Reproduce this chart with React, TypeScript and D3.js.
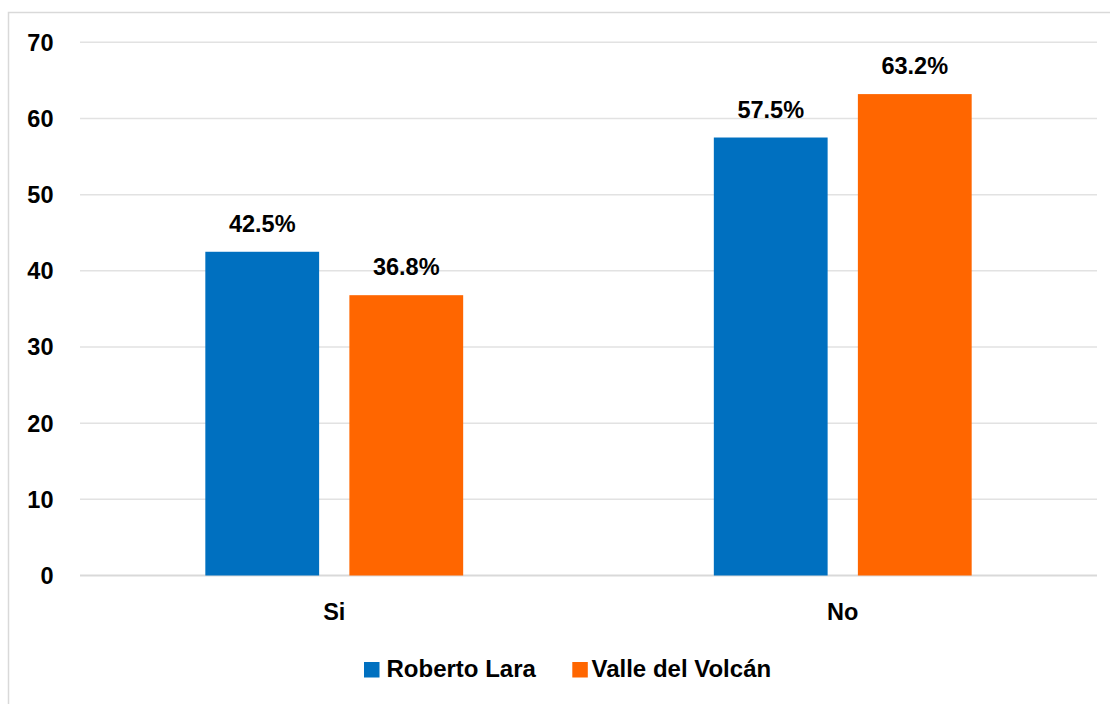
import React from "react";
import * as d3 from "d3";

const categories = ["Si", "No"];
const seriesNames = ["Roberto Lara", "Valle del Volcán"];
const robertoLara = [42.5, 57.5];
const valleDelVolcan = [36.8, 63.2];
const yTicks = [0, 10, 20, 30, 40, 50, 60, 70];
const colors = ["#0070C0", "#FF6600"];

const W = 1110;
const H = 704;
const FONT = "'Liberation Sans', Arial, sans-serif";

export default function App() {
  const seriesValues = [robertoLara, valleDelVolcan];
  const x0 = d3.scaleBand<string>().domain(categories).range([80, 1097]).padding(0);
  const x1 = d3
    .scaleBand<string>()
    .domain(seriesNames)
    .range([0, x0.bandwidth()])
    .paddingInner(0.21)
    .paddingOuter(0.87);
  const y = d3.scaleLinear().domain([0, 70]).range([575.5, 42.3]);

  return (
    <svg
      width={W}
      height={H}
      style={{ position: "absolute", left: 0, top: 0, background: "#fff" }}
      fontFamily={FONT}
      fontWeight="bold"
    >
      <rect x={8.5} y={12.5} width={1200} height={800} fill="#fff" stroke="#d9d9d9" strokeWidth={1.5} />
      {yTicks.map((t) => (
        <g key={t}>
          <line
            x1={80}
            x2={1097}
            y1={y(t)}
            y2={y(t)}
            stroke={t === 0 ? "#d9d9d9" : "#e2e2e2"}
            strokeWidth={t === 0 ? 2 : 1.5}
          />
          <text x={53.5} y={y(t)} dy="0.36em" textAnchor="end" fontSize={23.5} fill="#000">
            {t}
          </text>
        </g>
      ))}
      {categories.map((c, ci) => (
        <g key={c}>
          {seriesNames.map((s, si) => {
            const v = seriesValues[si][ci];
            const bx = (x0(c) as number) + (x1(s) as number);
            return (
              <g key={s}>
                <rect
                  x={bx}
                  y={y(v)}
                  width={x1.bandwidth()}
                  height={y(0) - y(v)}
                  fill={colors[si]}
                />
                <text
                  x={bx + x1.bandwidth() / 2}
                  y={y(v) - 20}
                  textAnchor="middle"
                  fontSize={23.5}
                  fill="#000"
                >
                  {v.toFixed(1)}%
                </text>
              </g>
            );
          })}
          <text
            x={(x0(c) as number) + x0.bandwidth() / 2}
            y={620}
            textAnchor="middle"
            fontSize={23.5}
            fill="#000"
          >
            {c}
          </text>
        </g>
      ))}
      <g>
        <rect x={364} y={662} width={15.5} height={15.5} fill={colors[0]} />
        <text x={386.5} y={677} fontSize={24} fill="#000">
          {seriesNames[0]}
        </text>
        <rect x={572.3} y={662} width={15.5} height={15.5} fill={colors[1]} />
        <text x={591.5} y={677} fontSize={24} fill="#000">
          {seriesNames[1]}
        </text>
      </g>
    </svg>
  );
}
